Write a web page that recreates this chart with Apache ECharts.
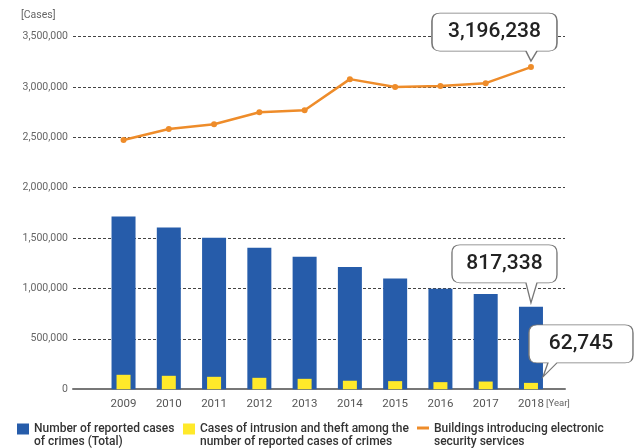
<!DOCTYPE html>
<html>
<head>
<meta charset="utf-8">
<script src="https://cdn.jsdelivr.net/npm/echarts@6/dist/echarts.min.js"></script>
<style>html,body{margin:0;padding:0;background:#fff;}#c{width:640px;height:448px;}</style>
</head>
<body>
<div id="c"></div>
<script>
var years = ['2009','2010','2011','2012','2013','2014','2015','2016','2017','2018'];
var totalCrimes = [1713832, 1604019, 1502951, 1403167, 1314140, 1212163, 1098969, 996120, 944000, 817338];
var intrusionTheft = [143000, 133000, 123000, 113000, 103000, 84000, 80000, 70000, 76000, 62745];
var securityBuildings = [2473000, 2582000, 2629000, 2749000, 2769000, 3077000, 2998000, 3008000, 3037000, 3196238];
var yTicks = [0, 500000, 1000000, 1500000, 2000000, 2500000, 3000000, 3500000];
var names = ['Number of reported cases\nof crimes (Total)', 'Cases of intrusion and theft among the\nnumber of reported cases of crimes', 'Buildings introducing electronic\nsecurity services'];

var FONT = 'Roboto, "Noto Sans", sans-serif';
var fmt = function (v) { return Number(v).toLocaleString('en-US'); };
var calloutLabel = {
  show: true, position: 'inside', color: '#222', fontSize: 21, fontWeight: 500,
  fontFamily: FONT, formatter: function (p) { return fmt(p.value); }
};
var calloutStyle = { color: '#fff', borderColor: '#777', borderWidth: 1 };
var yMax = yTicks[yTicks.length - 1];
var yInt = yTicks[1] - yTicks[0];

var chart = echarts.init(document.getElementById('c'), null, { renderer: 'canvas' });
var legendBase = {
  top: 422.5, orient: 'horizontal', itemWidth: 12, padding: 0,
  textStyle: { color: '#333', fontSize: 12, lineHeight: 13, fontFamily: FONT, fontWeight: 500 },
  selectedMode: false
};
chart.setOption({
  animation: false,
  backgroundColor: '#fff',
  graphic: [
    { type: 'text', left: 21, top: 10, style: { text: '[Cases]', fill: '#666', fontSize: 10.5, fontFamily: FONT } },
    { type: 'text', left: 546, top: 399, style: { text: '[Year]', fill: '#666', fontSize: 9.5, fontFamily: FONT } }
  ],
  grid: [
    { left: 73, right: 75, top: 36.5, bottom: 58.8 },
    { left: 100.9, right: 86.4, top: 36.5, bottom: 58.8 }
  ],
  legend: [
    Object.assign({}, legendBase, { left: 17, data: [{ name: names[0], icon: 'path://M0 0H12V11H0Z M12 24L12 24' }], itemHeight: 24 }),
    Object.assign({}, legendBase, { left: 183, data: [{ name: names[1], icon: 'path://M0 0H12V11H0Z M12 24L12 24' }], itemHeight: 24 }),
    Object.assign({}, legendBase, { left: 417, data: [{ name: names[2], icon: 'path://M0 0H12V3H0Z M12 18L12 18' }], itemHeight: 18 })
  ],
  xAxis: [
    { gridIndex: 0, type: 'value', min: 0, max: 1, axisLabel: { show: false }, axisTick: { show: false }, splitLine: { show: false },
      axisLine: { show: true, lineStyle: { color: '#777', width: 2 } } },
    { gridIndex: 1, type: 'category', data: years, axisLine: { show: false }, axisTick: { show: false },
      axisLabel: { color: '#555', fontSize: 11.5, fontFamily: FONT, margin: 9, interval: 0 } },
    { gridIndex: 1, type: 'category', data: years, show: false }
  ],
  yAxis: [
    { gridIndex: 0, type: 'value', min: 0, max: yMax, interval: yInt,
      axisLine: { show: false }, axisTick: { show: false },
      axisLabel: { color: '#666', fontSize: 10.5, fontFamily: FONT, margin: 5, formatter: fmt },
      splitLine: { show: true, lineStyle: { color: '#444', width: 1, type: [3, 2] } } },
    { gridIndex: 1, type: 'value', min: 0, max: yMax, interval: yInt, show: false, splitLine: { show: false } }
  ],
  series: [
    { name: names[0], type: 'bar', xAxisIndex: 1, yAxisIndex: 1, data: totalCrimes, barWidth: 24,
      itemStyle: { color: '#265CAA' }, z: 2,
      markPoint: {
        z: 10, symbol: 'path://M8 0H97Q105 0 105 8V30Q105 38 97 38H85L79 58L74 38H8Q0 38 0 30V8Q0 0 8 0Z',
        symbolSize: [105, 58], symbolKeepAspect: false, symbolOffset: [-26.5, -33],
        itemStyle: calloutStyle, label: Object.assign({}, calloutLabel, { offset: [0, -10] }),
        data: [{ coord: [years[9], totalCrimes[9]], value: totalCrimes[9] }]
      } },
    { name: names[1], type: 'bar', xAxisIndex: 2, yAxisIndex: 1, data: intrusionTheft, barWidth: 14,
      itemStyle: { color: '#FFE92A' }, z: 3,
      markPoint: {
        z: 10, symbol: 'path://M8 0H96Q104 0 104 8V30Q104 38 96 38H28L14 52L19 38H8Q0 38 0 30V8Q0 0 8 0Z',
        symbolSize: [104, 52], symbolKeepAspect: false, symbolOffset: [50, -32],
        itemStyle: calloutStyle, label: Object.assign({}, calloutLabel, { offset: [0, -7] }),
        data: [{ coord: [years[9], intrusionTheft[9]], value: intrusionTheft[9] }]
      } },
    { name: names[2], type: 'line', xAxisIndex: 1, yAxisIndex: 1, data: securityBuildings,
      symbol: 'circle', symbolSize: 6, showSymbol: true, z: 4,
      lineStyle: { color: '#EE8C2A', width: 2.5 }, itemStyle: { color: '#EE8C2A' },
      markPoint: {
        z: 10, symbol: 'path://M8 0H117Q125 0 125 8V30Q125 38 117 38H105L99 48L94 38H8Q0 38 0 30V8Q0 0 8 0Z',
        symbolSize: [125, 48], symbolKeepAspect: false, symbolOffset: [-36.5, -30],
        itemStyle: calloutStyle, label: Object.assign({}, calloutLabel, { offset: [0, -5] }),
        data: [{ coord: [years[9], securityBuildings[9]], value: securityBuildings[9] }]
      } }
  ]
});
</script>
</body>
</html>
